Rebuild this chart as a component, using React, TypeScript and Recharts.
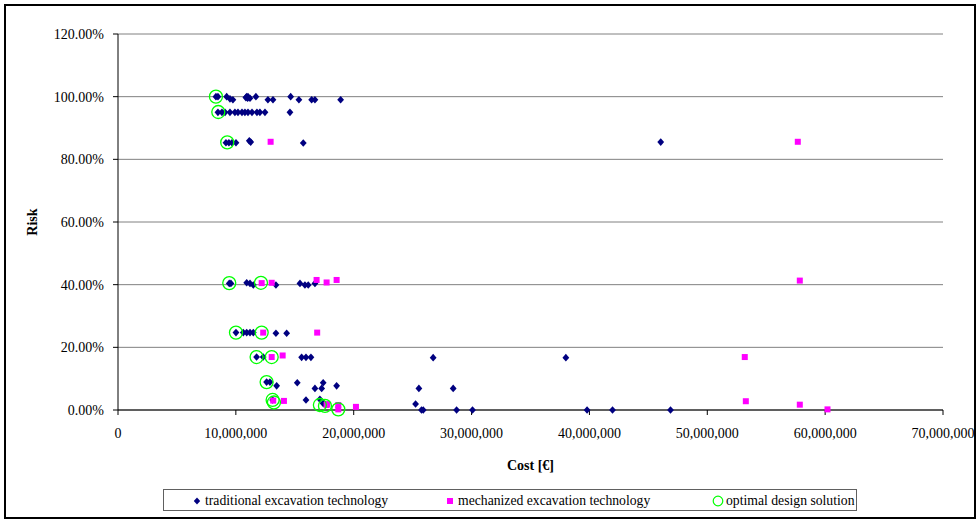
import React from 'react';
import {
  ScatterChart,
  Scatter,
  XAxis,
  YAxis,
  CartesianGrid,
  Label,
} from 'recharts';

// cost in millions of euro, risk in percent
const traditional: [number, number][] = [
  [8.31, 100], [8.48, 100], [9.22, 100], [9.5, 99.3], [9.75, 99], [10.85, 99.7],
  [10.92, 100], [11.0, 99.5], [11.03, 100], [11.2, 99.5], [11.7, 100], [12.72, 99],
  [13.15, 99], [14.65, 100], [15.35, 99], [16.43, 99], [16.71, 99], [18.89, 99],
  [8.48, 95], [8.82, 95], [9.08, 95], [9.5, 95], [9.92, 95], [10.18, 95], [10.52, 95],
  [10.77, 95], [11.03, 95], [11.37, 95], [11.79, 95], [12.04, 95], [12.47, 95], [14.59, 95],
  [9.16, 85.3], [9.41, 85.3], [9.67, 85.3], [10.01, 85.3], [11.14, 85.9], [11.26, 85.5],
  [15.72, 85.2], [46.05, 85.5],
  [9.44, 40.4], [9.58, 40.4], [10.92, 40.6], [11.2, 40.4], [11.48, 39.9], [13.4, 39.9],
  [15.44, 40.4], [15.86, 39.9], [16.14, 39.9], [16.71, 40.4],
  [10.01, 24.7], [10.63, 24.7], [10.92, 24.7], [11.2, 24.7], [11.48, 24.7], [13.4, 24.5],
  [14.31, 24.5],
  [11.76, 16.9], [12.32, 16.9], [15.58, 16.8], [15.95, 16.8], [16.37, 16.8], [26.74, 16.7],
  [38.0, 16.7],
  [12.61, 8.9], [12.89, 8.9], [13.46, 7.7], [15.21, 8.7], [16.71, 6.9], [17.28, 6.9],
  [17.41, 8.7], [18.55, 7.7], [25.53, 6.9], [28.44, 6.9],
  [13.12, 3.2], [15.95, 3.2], [17.13, 3.4], [17.41, 2.1], [25.25, 1.9], [25.75, 0],
  [25.9, 0], [28.73, 0], [30.08, 0], [39.8, 0], [41.96, 0], [46.88, 0],
];

const mechanized: [number, number][] = [
  [12.95, 85.6], [57.68, 85.6],
  [12.19, 40.5], [13.04, 40.6], [16.85, 41.5], [17.7, 40.7], [18.55, 41.5], [57.85, 41.3],
  [12.32, 24.7], [16.9, 24.7],
  [13.04, 16.9], [13.97, 17.4], [53.18, 16.9],
  [13.17, 3.0], [14.08, 2.9], [17.7, 1.6], [17.75, 1.9], [18.69, 1.6], [18.69, 0.2],
  [20.19, 1.0], [53.27, 2.8], [57.85, 1.7], [60.2, 0.2],
];

const optimal: [number, number][] = [
  [8.31, 100], [8.51, 95.1], [9.27, 85.4], [9.44, 40.5], [12.13, 40.6], [10.01, 24.7],
  [12.19, 24.7], [11.76, 16.9], [13.04, 16.9], [12.61, 8.9], [13.12, 3.2], [13.23, 2.4],
  [17.13, 1.6], [17.56, 1.3], [18.69, 0.2],
];

const costTicks = [0, 10, 20, 30, 40, 50, 60, 70];
const riskTicks = [0, 20, 40, 60, 80, 100, 120];

const NAVY = '#000080';
const MAGENTA = '#FF00FF';
const GREEN = '#00FF00';
const FONT = '"Liberation Serif", "Times New Roman", serif';

const toPoints = (rows: [number, number][]) => rows.map(([x, y]) => ({ x, y }));

const Diamond = (props: any) => {
  const { cx, cy } = props;
  return (
    <polygon
      points={`${cx},${cy - 3.8} ${cx + 3.4},${cy} ${cx},${cy + 3.8} ${cx - 3.4},${cy}`}
      fill={NAVY}
    />
  );
};

const Square = (props: any) => {
  const { cx, cy } = props;
  return <rect x={cx - 3} y={cy - 3} width={6} height={6} fill={MAGENTA} />;
};

const Ring = (props: any) => {
  const { cx, cy } = props;
  return <circle cx={cx} cy={cy} r={6.5} fill="none" stroke={GREEN} strokeWidth={1.3} />;
};

const legendItems = [
  { label: 'traditional excavation technology', kind: 'diamond', left: 27 },
  { label: 'mechanized excavation technology', kind: 'square', left: 280 },
  { label: 'optimal design solution', kind: 'circle', left: 548 },
];

const LegendSymbol = ({ kind }: { kind: string }) => (
  <svg width={12} height={12} style={{ display: 'block' }}>
    {kind === 'diamond' && <polygon points="6,2.5 9.2,6 6,9.5 2.8,6" fill={NAVY} />}
    {kind === 'square' && <rect x={3} y={3} width={6} height={6} fill={MAGENTA} />}
    {kind === 'circle' && <circle cx={6} cy={6} r={4.8} fill="none" stroke={GREEN} strokeWidth={1.2} />}
  </svg>
);

export default function App() {
  return (
    <div
      style={{
        position: 'absolute',
        left: 0,
        top: 0,
        width: 979,
        height: 522,
        background: '#fff',
        fontFamily: FONT,
      }}
    >
      <div
        style={{
          position: 'absolute',
          left: 4,
          top: 4,
          width: 972,
          height: 515,
          border: '2px solid #000',
          boxSizing: 'border-box',
        }}
      />
      <ScatterChart
        width={979}
        height={522}
        margin={{ top: 34, right: 36, left: 0, bottom: 0 }}
        style={{ position: 'absolute', left: 0, top: 0 }}
      >
        <CartesianGrid vertical={false} stroke="#808080" strokeWidth={1} />
        <XAxis
          type="number"
          dataKey="x"
          domain={[0, 70]}
          ticks={costTicks}
          tickFormatter={(v: number) => (v * 1000000).toLocaleString('en-US')}
          height={112}
          tickSize={5}
          tickMargin={13}
          stroke="#000"
          tick={{ fill: '#000', fontSize: 14, fontFamily: FONT }}
          interval={0}
        >
          <Label
            value="Cost [€]"
            position="insideTop"
            offset={50}
            style={{ fontWeight: 'bold', fontSize: 14, fill: '#000', fontFamily: FONT }}
          />
        </XAxis>
        <YAxis
          type="number"
          dataKey="y"
          domain={[0, 120]}
          ticks={riskTicks}
          tickFormatter={(v: number) => `${v.toFixed(2)}%`}
          width={118}
          tickSize={5}
          tickMargin={9}
          stroke="#000"
          tick={{ fill: '#000', fontSize: 14, fontFamily: FONT }}
          interval={0}
        >
          <Label
            content={({ viewBox }: any) => {
              const x = viewBox.x + 37;
              const y = viewBox.y + viewBox.height / 2;
              return (
                <text
                  x={x}
                  y={y}
                  transform={`rotate(-90 ${x} ${y})`}
                  textAnchor="middle"
                  fontWeight="bold"
                  fontSize={14}
                  fontFamily={FONT}
                  fill="#000"
                >
                  Risk
                </text>
              );
            }}
          />
        </YAxis>
        <Scatter
          name="traditional excavation technology"
          data={toPoints(traditional)}
          shape={Diamond}
          isAnimationActive={false}
        />
        <Scatter
          name="mechanized excavation technology"
          data={toPoints(mechanized)}
          shape={Square}
          isAnimationActive={false}
        />
        <Scatter
          name="optimal design solution"
          data={toPoints(optimal)}
          shape={Ring}
          isAnimationActive={false}
        />
      </ScatterChart>
      <div
        style={{
          position: 'absolute',
          left: 163,
          top: 489,
          width: 694,
          height: 22,
          border: '1px solid #606060',
          boxSizing: 'border-box',
          fontSize: 13.7,
          color: '#000',
        }}
      >
        {legendItems.map((item) => (
          <div
            key={item.label}
            style={{
              position: 'absolute',
              left: item.left,
              top: 3,
              display: 'flex',
              alignItems: 'center',
              gap: 2,
              whiteSpace: 'nowrap',
              lineHeight: '16px',
            }}
          >
            <LegendSymbol kind={item.kind} />
            <span>{item.label}</span>
          </div>
        ))}
      </div>
    </div>
  );
}
